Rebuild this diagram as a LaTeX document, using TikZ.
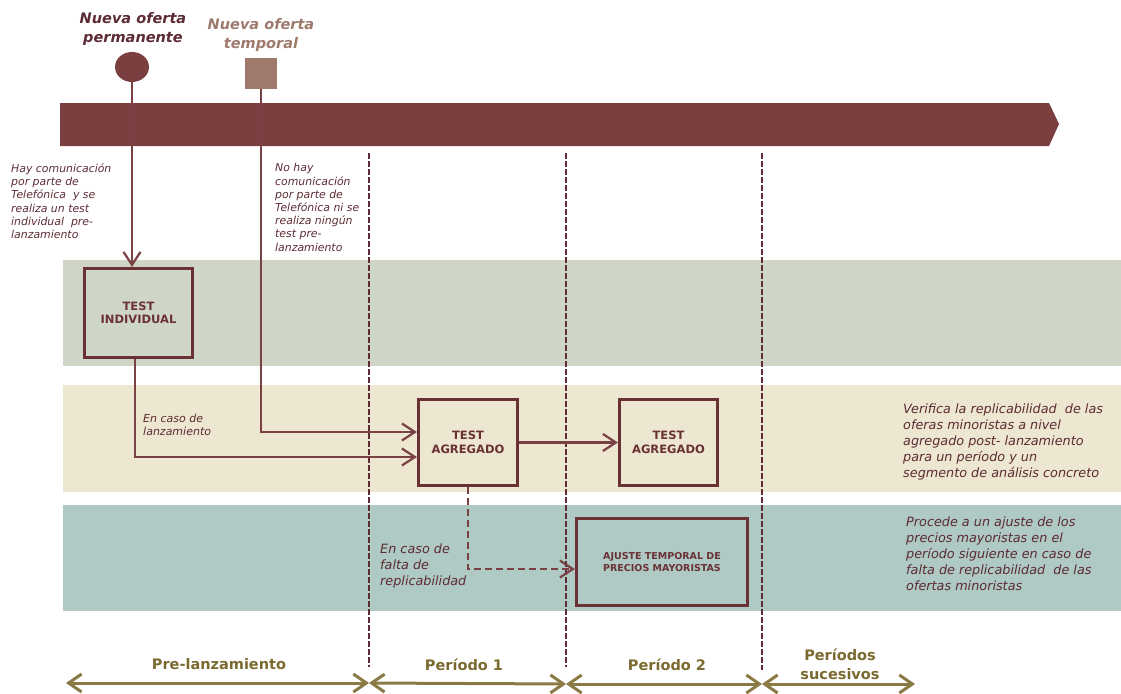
\documentclass[tikz,border=0pt]{standalone}
\usepackage{fontspec}
\setmainfont{DejaVu Sans}
\usetikzlibrary{arrows.meta,shapes.geometric}
\definecolor{bandred}{HTML}{7B3F40}
\definecolor{sqcol}{HTML}{9E7A6D}
\definecolor{dk}{HTML}{5C2B33}
\definecolor{lnc}{HTML}{7B4044}
\definecolor{bxc}{HTML}{6A3135}
\definecolor{bA}{HTML}{CFD6C6}
\definecolor{bB}{HTML}{EDE6D1}
\definecolor{bC}{HTML}{AFC9C4}
\definecolor{olv}{HTML}{7A6A30}
\definecolor{olvl}{HTML}{8A7A45}
\tikzset{
  note/.style={inner sep=0pt, align=left, anchor=north west, text=dk, font=\fontsize{10.9}{13.2}\selectfont\itshape},
  bignote/.style={note, font=\fontsize{12.8}{16}\selectfont\itshape},
  testbox/.style={draw=bxc, line width=3.2pt, inner sep=0pt, align=center, text=bxc, font=\fontsize{11.5}{13.5}\selectfont\bfseries},
  conn/.style={draw=lnc, line width=2.2pt, -{Straight Barb[length=13pt,width=17pt,line width=2.2pt]}},
  vdash/.style={draw=dk, line width=2.2pt, dash pattern=on 6pt off 2pt},
  period/.style={draw=olvl, line width=3pt, {Straight Barb[length=13pt,width=18pt,line width=3pt]}-{Straight Barb[length=13pt,width=18pt,line width=3pt]}},
  plabel/.style={inner sep=0pt, align=center, text=olv, font=\fontsize{14.5}{19}\selectfont\bfseries},
  title/.style={inner sep=0pt, align=center, anchor=north, font=\fontsize{14.5}{19}\selectfont\bfseries\itshape}
}
\begin{document}
\begin{tikzpicture}[x=1pt,y=-1pt]
\useasboundingbox (0,0) rectangle (1121,693);
% bands
\fill[bA] (63,260) rectangle (1121,366);
\fill[bB] (63,385) rectangle (1121,492);
\fill[bC] (63,505) rectangle (1121,611);
% timeline arrow
\fill[bandred] (60,103) -- (1049,103) -- (1059,124) -- (1049,146) -- (60,146) -- cycle;
% titles
\node[title, text=dk] (tperm) at (133,12) {Nueva oferta\\permanente};
\node[title, text=sqcol] (ttemp) at (261,18) {Nueva oferta\\temporal};
% markers
\node[ellipse, fill=bandred, minimum width=34pt, minimum height=30pt, inner sep=0pt] (circ) at (132,67) {};
\node[rectangle, fill=sqcol, minimum width=32pt, minimum height=31pt, inner sep=0pt] (sq) at (261,73.5) {};
% dashed period separators
\coordinate (d1t) at (369,153); \coordinate (d1b) at (369,667);
\coordinate (d2t) at (566,153); \coordinate (d2b) at (566,667);
\coordinate (d3t) at (762,153); \coordinate (d3b) at (762,670);
\draw[vdash] (d1t) -- (d1b);
\draw[vdash] (d2t) -- (d2b);
\draw[vdash] (d3t) -- (d3b);
% notes
\node[note] (n1) at (11,163.5) {Hay comunicación\\por parte de\\Telefónica~ y se\\realiza un test\\individual~ pre-\\lanzamiento};
\node[note] (n2) at (275,163.5) {No hay\\comunicación\\por parte de\\Telefónica ni se\\realiza ningún\\test pre-\\lanzamiento};
\node[note, font=\fontsize{11}{13}\selectfont\itshape] (n3) at (143,414) {En caso de\\lanzamiento};
\node[bignote] (n4) at (380,544) {En caso de\\falta de\\replicabilidad};
\node[bignote] (n5) at (903,403.5) {Verifica la replicabilidad~ de las\\oferas minoristas a nivel\\agregado post- lanzamiento\\para un período y un\\segmento de análisis concreto};
\node[bignote] (n6) at (906,516.5) {Procede a un ajuste de los\\precios mayoristas en el\\período siguiente en caso de\\falta de replicabilidad~ de las\\ofertas minoristas};
% boxes
\node[testbox, minimum width=108pt, minimum height=89pt] (box1) at (138.5,313) {TEST\\INDIVIDUAL};
\node[testbox, minimum width=99pt, minimum height=86pt] (agg1) at (468,442.5) {TEST\\AGREGADO};
\node[testbox, minimum width=98pt, minimum height=86pt] (agg2) at (668.5,442.5) {TEST\\AGREGADO};
\node[testbox, minimum width=171pt, minimum height=87pt, font=\fontsize{9.5}{12}\selectfont\bfseries] (ajuste) at (662,562) {AJUSTE TEMPORAL DE\\PRECIOS MAYORISTAS};
% connectors
\draw[conn] (circ.south) -- (circ.south |- box1.north);
\draw[conn] (sq.south) |- ([yshift=10.5pt]agg1.west);
\draw[conn] ([xshift=-3.5pt]box1.south) |- ([yshift=-14.5pt]agg1.west);
\draw[conn] (agg1.east) -- (agg2.west);
\draw[conn, dash pattern=on 7pt off 4pt] (agg1.south) |- ([yshift=-7pt]ajuste.west);
% bottom periods
\coordinate (p0) at (66,683);
\coordinate (p1) at (369,683);
\coordinate (p2) at (566,684);
\coordinate (p3) at (762,684);
\coordinate (p4) at (915,684);
\draw[period] (p0) -- (p1);
\draw[period] (p1) -- (p2);
\draw[period] (p2) -- (p3);
\draw[period] (p3) -- (p4);
\node[plabel] (l1) at (219,664) {Pre-lanzamiento};
\node[plabel] (l2) at (464,665) {Período 1};
\node[plabel] (l3) at (667,665) {Período 2};
\node[plabel] (l4) at (840,664) {Períodos\\sucesivos};
\end{tikzpicture}
\end{document}
